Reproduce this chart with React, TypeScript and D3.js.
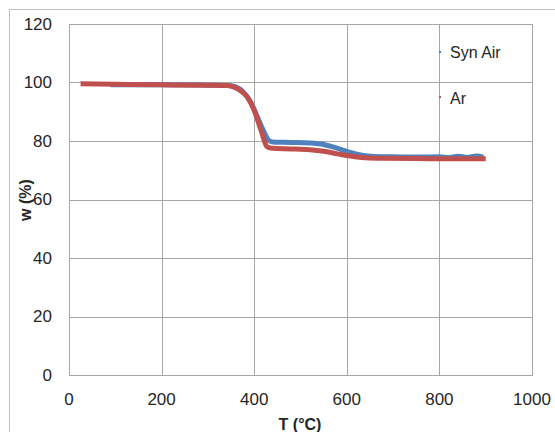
import React from "react";
import * as d3 from "d3";

const xTicks = [0, 200, 400, 600, 800, 1000];
const yTicks = [0, 20, 40, 60, 80, 100, 120];

const arT = [25, 100, 200, 300, 340, 355, 370, 385, 400, 415, 428, 440, 480, 520, 550, 580, 610, 640, 680, 750, 820, 900];
const arW = [99.6, 99.4, 99.2, 99.1, 99.0, 98.5, 97.3, 95.0, 90.5, 83.5, 78.0, 77.5, 77.3, 77.0, 76.5, 75.6, 74.8, 74.3, 74.1, 74.0, 73.9, 73.9];

const airT = [90, 200, 300, 345, 360, 375, 390, 405, 420, 433, 445, 480, 520, 550, 570, 590, 610, 630, 660, 700, 750, 800, 820, 840, 860, 880, 895];
const airW = [99.2, 99.2, 99.1, 99.0, 98.5, 97.0, 94.0, 89.0, 83.5, 80.0, 79.6, 79.5, 79.3, 78.8, 78.0, 77.0, 76.0, 75.2, 74.7, 74.6, 74.5, 74.6, 74.3, 74.8, 74.4, 74.9, 74.5];

const seriesNames = ["Syn Air", "Ar"];
const colors = ["#4F81BD", "#C0504D"];

export default function App() {
  const left = 69, right = 532, top = 24, bottom = 375;
  const x = d3.scaleLinear().domain([0, 1000]).range([left, right]);
  const y = d3.scaleLinear().domain([0, 120]).range([bottom, top]);
  const line = d3
    .line<[number, number]>()
    .x((d) => x(d[0]))
    .y((d) => y(d[1]))
    .curve(d3.curveMonotoneX);
  const airData: [number, number][] = airT.map((t, i) => [t, airW[i]]);
  const arData: [number, number][] = arT.map((t, i) => [t, arW[i]]);
  const font = "'Liberation Sans', Arial, sans-serif";
  const grid = "#A6A6A6";
  const txt = "#262626";
  return (
    <svg
      width={555}
      height={432}
      style={{ position: "absolute", left: 0, top: 0, background: "#fff" }}
      fontFamily={font}
    >
      <rect x={9.5} y={9.5} width={700} height={600} fill="#fff" stroke="#BFBFBF" />
      {yTicks.map((t) => (
        <line key={"gy" + t} x1={left} x2={right} y1={Math.round(y(t)) + 0.5} y2={Math.round(y(t)) + 0.5} stroke={grid} strokeWidth={1} />
      ))}
      {xTicks.map((t) => (
        <line key={"gx" + t} x1={Math.round(x(t)) + 0.5} x2={Math.round(x(t)) + 0.5} y1={top} y2={bottom} stroke={grid} strokeWidth={1} />
      ))}
      <rect x={left + 0.5} y={top + 0.5} width={right - left} height={bottom - top} fill="none" stroke={grid} />
      {yTicks.map((t) => (
        <text key={"ly" + t} x={52} y={y(t)} dy="0.35em" textAnchor="end" fontSize={17} fill={txt}>
          {t}
        </text>
      ))}
      {xTicks.map((t) => (
        <text key={"lx" + t} x={x(t)} y={405} textAnchor="middle" fontSize={17} fill={txt}>
          {t}
        </text>
      ))}
      <path d={line(airData) || ""} fill="none" stroke={colors[0]} strokeWidth={5} strokeLinejoin="round" />
      <path d={line(arData) || ""} fill="none" stroke={colors[1]} strokeWidth={5} strokeLinejoin="round" />
      <text x={300} y={430} textAnchor="middle" fontSize={16} fontWeight="bold" fill={txt}>
        T (°C)
      </text>
      <text transform="translate(31,200) rotate(-90)" textAnchor="middle" fontSize={16} fontWeight="bold" fill={txt}>
        w (%)
      </text>
      {seriesNames.map((n, i) => (
        <g key={n}>
          <rect x={439} y={[51, 96][i]} width={2} height={2} fill={colors[i]} />
          <text x={450} y={[58, 104][i]} fontSize={16} fill={txt}>
            {n}
          </text>
        </g>
      ))}
    </svg>
  );
}
